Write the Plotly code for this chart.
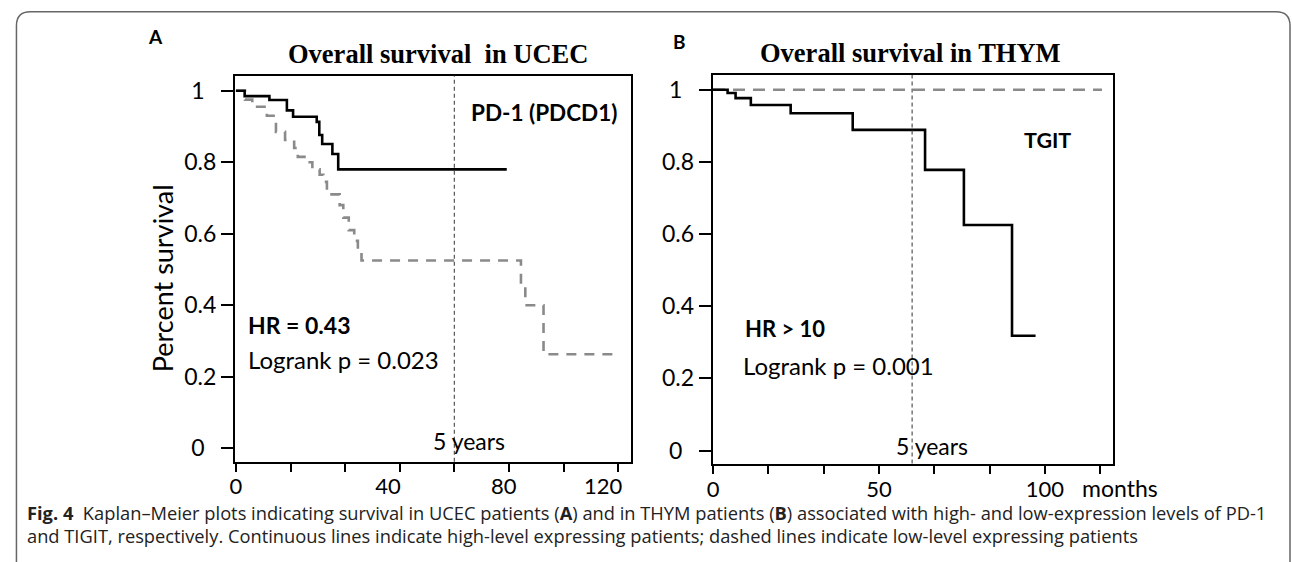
import plotly.graph_objects as go

W, H = 1293, 562

# ---------------- data ----------------
# Panel A : UCEC, PD-1 (PDCD1)  -- months / survival fraction
a_high_t = [0, 2.4, 9.2, 14.0, 15.7, 22.2, 22.9, 23.7, 26.5, 28.1, 74.4]
a_high_s = [1.0, 0.985, 0.974, 0.945, 0.927, 0.913, 0.876, 0.851, 0.823, 0.780, 0.780]
a_low_t = [0, 2.5, 4.5, 8.5, 11.0, 13.5, 16.0, 17.0, 19.5, 21.0, 23.0, 24.0, 25.0,
           28.5, 29.5, 31.0, 32.5, 33.5, 34.5, 78.3, 79.5, 84.5, 105.4]
a_low_s = [1.0, 0.975, 0.955, 0.93, 0.885, 0.862, 0.84, 0.815, 0.80, 0.78, 0.765, 0.745, 0.71,
           0.68, 0.645, 0.61, 0.58, 0.55, 0.525, 0.46, 0.40, 0.263, 0.263]
a_tick_marks = [0, 15, 30, 45, 60, 75, 90, 105]
a_label_pos = [0.0, 41.8, 73.6, 100.9]
a_label_text = ["0", "40", "80", "120"]

# Panel B : THYM, TIGIT
b_high_t = [0, 4.4, 6.8, 11.4, 23.4, 42.1, 63.9, 75.6, 90.1, 97.2]
b_high_s = [1.0, 0.991, 0.977, 0.958, 0.935, 0.889, 0.778, 0.625, 0.318, 0.318]
b_low_t = [0, 117.2]
b_low_s = [1.0, 1.0]
b_tick_marks = [0, 50 / 3, 100 / 3, 50, 200 / 3, 250 / 3, 100, 350 / 3]
b_tick_text = ["0", "", "", "50", "", "", "100", ""]

y_ticks = [0, 0.2, 0.4, 0.6, 0.8, 1]
y_tick_text = ["0\u00a0\u00a0", "0.2", "0.4", "0.6", "0.8", "1\u00a0\u00a0"]
five_years = 60

caption1 = ("<b>Fig. 4</b>  Kaplan–Meier plots indicating survival in UCEC patients (<b>A</b>) and in "
            "THYM patients (<b>B</b>) associated with high- and low-expression levels of PD-1")
caption2 = ("and TIGIT, respectively. Continuous lines indicate high-level expressing patients; "
            "dashed lines indicate low-level expressing patients")


def px(x):
    return x / W


def py(y):
    return 1 - y / H


FONT = "Lato"
fig = go.Figure()

# Panel A traces
fig.add_trace(go.Scatter(x=a_low_t, y=a_low_s, mode="lines", line_shape="hv",
                         line=dict(color="#8a8a8a", width=2.6, dash="10px,8px"),
                         xaxis="x", yaxis="y", showlegend=False))
fig.add_trace(go.Scatter(x=a_high_t, y=a_high_s, mode="lines", line_shape="hv",
                         line=dict(color="black", width=2.6),
                         xaxis="x", yaxis="y", showlegend=False))
# invisible carrier so the label-only overlay axis of panel A is drawn
fig.add_trace(go.Scatter(x=a_label_pos, y=[0] * len(a_label_pos), mode="markers",
                         marker=dict(opacity=0, size=1), hoverinfo="skip",
                         xaxis="x3", yaxis="y", showlegend=False))
# Panel B traces
fig.add_trace(go.Scatter(x=b_low_t, y=b_low_s, mode="lines", line_shape="hv",
                         line=dict(color="#8a8a8a", width=2.6, dash="12px,8px"),
                         xaxis="x2", yaxis="y2", showlegend=False))
fig.add_trace(go.Scatter(x=b_high_t, y=b_high_s, mode="lines", line_shape="hv",
                         line=dict(color="black", width=2.6),
                         xaxis="x2", yaxis="y2", showlegend=False))

axis_common = dict(showline=True, linewidth=2, linecolor="black", mirror=True,
                   showgrid=False, zeroline=False, ticks="outside", tickwidth=2,
                   tickcolor="black")
yfont = dict(family=FONT, size=23, color="black")
xfont = dict(family=FONT, size=22, color="black")

fig.update_layout(
    width=W, height=H, margin=dict(l=0, r=0, t=0, b=0),
    paper_bgcolor="white", plot_bgcolor="white", showlegend=False,
    xaxis=dict(domain=[px(230), px(627.7)], range=[-0.27, 108.47], anchor="y",
               tickvals=a_tick_marks, showticklabels=False, ticklen=8, **axis_common),
    xaxis3=dict(overlaying="x", anchor="y", side="bottom", range=[-0.27, 108.47],
                tickvals=a_label_pos, ticktext=a_label_text, ticks="outside", ticklen=8,
                tickcolor="rgba(0,0,0,0)", showline=False, showgrid=False, zeroline=False,
                ticklabelstandoff=-3, tickfont=xfont),
    yaxis=dict(domain=[py(461.7), py(75.7)], range=[-0.0375, 1.042], anchor="x",
               tickvals=y_ticks, ticktext=y_tick_text, ticklen=12, ticklabelstandoff=0,
               tickfont=yfont, **axis_common),
    xaxis2=dict(domain=[px(710), px(1112.3)], range=[-0.09, 120.57], anchor="y2",
                tickvals=b_tick_marks, ticktext=b_tick_text, ticklen=8,
                ticklabelstandoff=-3, tickfont=xfont, **axis_common),
    yaxis2=dict(domain=[py(463.5), py(75)], range=[-0.036, 1.041], anchor="x2",
                tickvals=y_ticks, ticktext=y_tick_text, ticklen=12, ticklabelstandoff=0,
                tickfont=yfont, **axis_common),
)

# 5-year reference lines
for xr, yr in (("x", "y domain"), ("x2", "y2 domain")):
    fig.add_shape(type="line", xref=xr, yref=yr, x0=five_years, x1=five_years, y0=0, y1=1,
                  line=dict(color="#555555", width=1.2, dash="4px,3px"))

# rounded frame
r = 14
frame = (f"M {px(10.5)},{py(575)} L {px(10.5)},{py(11.7 + r)} "
         f"Q {px(10.5)},{py(11.7)} {px(10.5 + r)},{py(11.7)} "
         f"L {px(1290 - r)},{py(11.7)} Q {px(1290)},{py(11.7)} {px(1290)},{py(11.7 + r)} "
         f"L {px(1290)},{py(575)}")
fig.add_shape(type="path", xref="paper", yref="paper", path=frame,
              line=dict(color="#666666", width=1.5))


def ann(text, x, y, size, xanchor="center", bold=False, family=FONT, angle=0, color="black"):
    fig.add_annotation(text=f"<b>{text}</b>" if bold else text, x=px(x), y=py(y),
                       xref="paper", yref="paper", xanchor=xanchor, yanchor="middle",
                       showarrow=False, textangle=angle, borderpad=0,
                       font=dict(family=family, size=size, color=color))


ann("A", 150, 37, 19, bold=True)
ann("B", 676.6, 41.7, 19, bold=True)
ann("Overall survival  in UCEC", 434, 54, 26.5, bold=True, family="Liberation Serif")
ann("Overall survival in THYM", 908.4, 52.5, 26.5, bold=True, family="Liberation Serif")
ann("Percent survival", 157, 278, 27, angle=-90)
ann("PD-1 (PDCD1)", 541, 112, 22.5, bold=True)
ann("HR = 0.43", 242, 325, 23, xanchor="left", bold=True)
ann("Logrank p = 0.023", 242, 359, 24, xanchor="left")
ann("5 years", 428, 441, 23, xanchor="left")
ann("TGIT", 1046.7, 140, 21.5, bold=True)
ann("HR > 10", 741, 328, 22, xanchor="left", bold=True)
ann("Logrank p = 0.001", 739, 365, 24, xanchor="left")
ann("5 years", 893, 446, 23, xanchor="left")
ann("months", 1080, 488, 23, xanchor="left")
ann(caption1, 20, 512, 18.3, xanchor="left", family="Open Sans", color="#222222")
ann(caption2, 20, 535.5, 18.3, xanchor="left", family="Open Sans", color="#222222")

fig.write_html("out.html")
